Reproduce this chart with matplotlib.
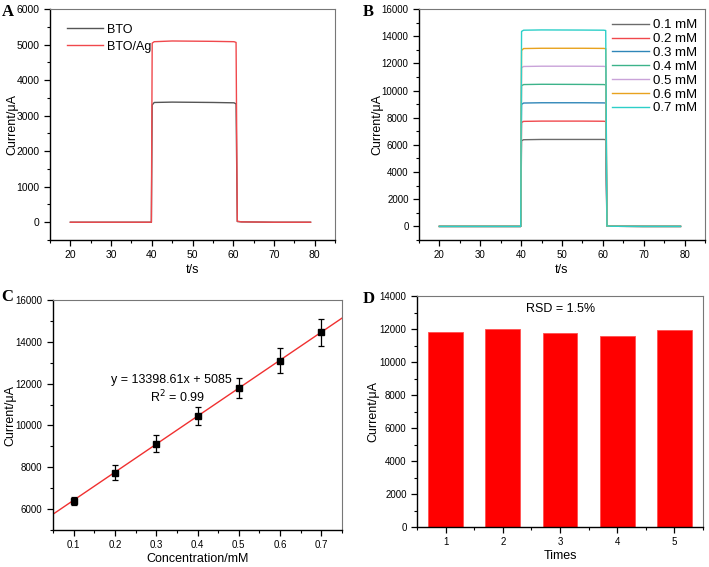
import matplotlib.pyplot as plt
import numpy as np
from matplotlib.ticker import MultipleLocator

plt.rcParams['font.family'] = ['Liberation Sans', 'DejaVu Sans']
plt.rcParams['font.size'] = 8

# Panel A: photocurrent traces (key points)
t_a = [20, 39.9, 40.1, 40.6, 45, 55, 60.2, 60.7, 61.0, 62, 70, 79]
bto = [0, 0, 3300, 3370, 3380, 3370, 3360, 3330, 20, 10, 0, 0]
bto_ag = [0, 0, 5040, 5080, 5100, 5090, 5080, 5060, 30, 10, 0, 0]

# Panel B: traces for different concentrations
t_b = [20, 39.9, 40.1, 40.6, 45, 55, 60.2, 60.7, 61.0, 62, 70, 79]
conc_labels = ['0.1 mM', '0.2 mM', '0.3 mM', '0.4 mM', '0.5 mM', '0.6 mM', '0.7 mM']
traces_b = [
    [0, 0, 6300, 6380, 6400, 6400, 6400, 6380, 40, 10, 0, 0],
    [0, 0, 7650, 7730, 7750, 7750, 7740, 7720, 40, 10, 0, 0],
    [0, 0, 8980, 9080, 9100, 9100, 9090, 9080, 40, 10, 0, 0],
    [0, 0, 10350, 10440, 10460, 10450, 10440, 10420, 40, 10, 0, 0],
    [0, 0, 11680, 11770, 11790, 11790, 11780, 11760, 40, 10, 0, 0],
    [0, 0, 12950, 13090, 13110, 13110, 13100, 13080, 40, 10, 0, 0],
    [0, 0, 14350, 14440, 14460, 14450, 14440, 14420, 40, 10, 0, 0],
]
colors_b = ['#6b6b6b', '#f0484c', '#2f86b8', '#3cb38a', '#c9a3d9', '#e8a21e', '#2dcfc8']

# Panel C: calibration
conc = [0.1, 0.2, 0.3, 0.4, 0.5, 0.6, 0.7]
current_c = [6400, 7750, 9120, 10450, 11790, 13100, 14460]
err_c = [200, 350, 400, 450, 500, 600, 650]
slope, intercept = 13398.61, 5085

# Panel D: repeatability
times = [1, 2, 3, 4, 5]
current_d = [11800, 12000, 11780, 11580, 11960]

fig = plt.figure(figsize=(7.09, 5.67), dpi=100)
W, H = 709, 567


def add_ax(l, t, r, b):
    return fig.add_axes([l / W, 1 - b / H, (r - l) / W, (b - t) / H])


def style(ax, size=7):
    for s in ['left', 'bottom']:
        ax.spines[s].set_color('black')
        ax.spines[s].set_linewidth(1.0)
    for s in ['top', 'right']:
        ax.spines[s].set_color('#777777')
        ax.spines[s].set_linewidth(0.8)
    ax.tick_params(which='both', direction='out', top=False, right=False,
                   labelsize=size, colors='black')
    ax.tick_params(which='major', length=4, width=0.9)
    ax.tick_params(which='minor', length=2.5, width=0.8)


axA = add_ax(50, 9, 335, 240)
axA.plot(t_a, bto, color='#555555', lw=1.0, label='BTO')
axA.plot(t_a, bto_ag, color='#f0484c', lw=1.0, label='BTO/Ag')
axA.set_xlim(15, 85)
axA.set_ylim(-500, 6000)
axA.xaxis.set_major_locator(MultipleLocator(10))
axA.xaxis.set_minor_locator(MultipleLocator(5))
axA.yaxis.set_major_locator(MultipleLocator(1000))
axA.yaxis.set_minor_locator(MultipleLocator(500))
axA.set_xlabel('t/s', fontsize=9)
axA.set_ylabel('Current/μA', fontsize=9)
axA.yaxis.set_label_coords(-0.112, 0.5)
axA.xaxis.set_label_coords(0.5, -0.105)
axA.legend(loc='upper left', bbox_to_anchor=(0.02, 0.985), frameon=False,
           fontsize=9, handlelength=2.9, labelspacing=0.4, handletextpad=0.3)
style(axA, 7.5)

axB = add_ax(419, 9, 705, 240)
for vals, lab, c in zip(traces_b, conc_labels, colors_b):
    axB.plot(t_b, vals, color=c, lw=1.0, label=lab)
axB.set_xlim(15, 85)
axB.set_ylim(-1000, 16000)
axB.xaxis.set_major_locator(MultipleLocator(10))
axB.xaxis.set_minor_locator(MultipleLocator(5))
axB.yaxis.set_major_locator(MultipleLocator(2000))
axB.yaxis.set_minor_locator(MultipleLocator(1000))
axB.set_xlabel('t/s', fontsize=9)
axB.set_ylabel('Current/μA', fontsize=9)
axB.yaxis.set_label_coords(-0.126, 0.5)
axB.xaxis.set_label_coords(0.5, -0.105)
axB.legend(loc='upper right', bbox_to_anchor=(1.0, 0.99), frameon=False,
           fontsize=9.5, handlelength=2.8, labelspacing=0.12, handletextpad=0.3,
           borderaxespad=0.2)
style(axB)

axC = add_ax(53, 300, 342, 530)
xl = np.array([0.05, 0.75])
axC.plot(xl, slope * xl + intercept, color='#f03030', lw=1.0)
axC.errorbar(conc, current_c, yerr=err_c, fmt='s', color='black', ms=5,
             capsize=2.5, elinewidth=0.9, capthick=0.9)
axC.set_xlim(0.05, 0.75)
axC.set_ylim(5000, 16000)
axC.xaxis.set_major_locator(MultipleLocator(0.1))
axC.xaxis.set_minor_locator(MultipleLocator(0.05))
axC.yaxis.set_major_locator(MultipleLocator(2000))
axC.yaxis.set_minor_locator(MultipleLocator(1000))
axC.set_xlabel('Concentration/mM', fontsize=9)
axC.set_ylabel('Current/μA', fontsize=9)
axC.yaxis.set_label_coords(-0.125, 0.5)
axC.xaxis.set_label_coords(0.5, -0.098)
axC.text(0.41, 0.65, 'y = 13398.61x + 5085', transform=axC.transAxes,
         ha='center', va='center', fontsize=9)
axC.text(0.43, 0.58, 'R$^2$ = 0.99', transform=axC.transAxes,
         ha='center', va='center', fontsize=9)
style(axC)

axD = add_ax(417, 296, 703, 527)
axD.bar(times, current_d, width=0.61, color='#ff0000', edgecolor='#ff5050', lw=0.6)
axD.set_xlim(0.5, 5.5)
axD.set_ylim(0, 14000)
axD.set_xticks(times)
axD.xaxis.set_minor_locator(MultipleLocator(0.5))
axD.yaxis.set_major_locator(MultipleLocator(2000))
axD.yaxis.set_minor_locator(MultipleLocator(1000))
axD.set_xlabel('Times', fontsize=9)
axD.set_ylabel('Current/μA', fontsize=9)
axD.yaxis.set_label_coords(-0.133, 0.5)
axD.xaxis.set_label_coords(0.5, -0.1)
axD.text(0.503, 0.944, 'RSD = 1.5%', transform=axD.transAxes, ha='center', va='center',
         fontsize=9)
style(axD)

# panel letters
for lab, x, y in [('A', 2, 12), ('B', 363, 12), ('C', 1, 297), ('D', 363, 299)]:
    fig.text(x / W, 1 - y / H, lab, fontsize=12, fontweight='bold',
             family='Liberation Serif', va='center', ha='left')

fig.savefig('out.png', dpi=100)
